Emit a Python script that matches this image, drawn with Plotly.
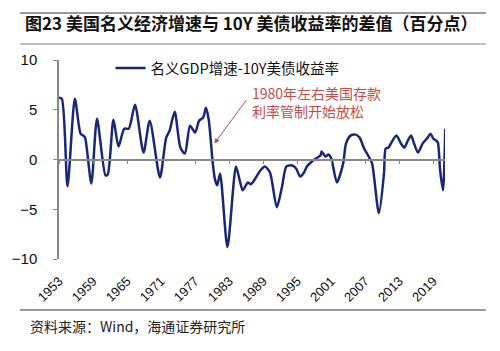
import plotly.graph_objects as go

# data (year, percentage points)
years = [1953.0, 1953.5, 1954.5, 1955.8, 1956.8, 1957.3, 1957.6, 1958.7, 1959.7, 1961.2,
         1961.6, 1962.6, 1963.5, 1964.5, 1965.3, 1966.4, 1967.9, 1969.0, 1970.8, 1971.9,
         1972.5, 1973.4, 1974.4, 1975.2, 1976.1, 1977.0, 1977.7, 1978.4, 1978.9, 1979.4,
         1980.1, 1980.5, 1980.9, 1981.4, 1982.7, 1984.2, 1984.9, 1985.4, 1986.3, 1986.8,
         1987.3, 1988.5, 1989.3, 1990.2, 1991.4, 1992.3, 1993.1, 1994.1, 1994.8, 1995.5,
         1996.2, 1996.7, 1997.4, 1998.3, 1999.1, 1999.3, 2000.0, 2000.5, 2001.0, 2002.0,
         2003.1, 2003.6, 2004.4, 2005.3, 2006.0, 2006.8, 2007.7, 2008.2, 2009.4, 2010.3,
         2010.6, 2011.1, 2011.6, 2012.5, 2013.3, 2013.9, 2014.5, 2015.1, 2015.6, 2016.3,
         2017.1, 2018.0, 2018.5, 2019.0, 2019.5, 2019.8, 2020.2, 2020.7, 2021.1]
spread = [6.2, 6.1, -2.7, 6.1, 2.6, 2.4, 2.2, -2.4, 4.1, -1.6,
          -1.5, 4.0, 1.3, 3.1, 3.1, 5.5, 0.7, 3.9, -1.8, 2.2,
          2.9, 4.8, 1.2, 0.6, 3.4, 2.7, 3.9, 4.2, 5.2, 4.0,
          -0.3, -2.0, -2.6, -1.4, -8.8, -0.7, -2.2, -3.1, -2.3, -2.5,
          -2.2, -1.1, -0.7, -1.3, -4.8, -2.8, -0.7, -0.6, -0.9, -1.7,
          -1.3, -0.7, -0.3, 0.1, 0.4, 0.8, 0.3, 0.5, 0.1, -2.3,
          -0.4, 1.6, 2.4, 2.5, 2.2, 1.1, 0.2, -0.4, -5.4, -1.4,
          1.1, 1.2, 1.7, 2.4, 1.6, 1.2, 1.9, 2.4, 1.6, 0.7,
          1.6, 2.2, 2.6, 2.1, 1.9, 1.7, -1.1, -3.1, 3.1]

tick_years = [1953, 1959, 1965, 1971, 1977, 1983, 1989, 1995, 2001, 2007, 2013, 2019]
tick_text = [str(y) for y in tick_years]
y_ticks = [10, 5, 0, -5, -10]

series_name = "名义GDP增速-10Y美债收益率"
title = "<b>图23 美国名义经济增速与 10Y 美债收益率的差值（百分点）</b>"
note = "1980年左右美国存款<br>利率管制开始放松"
source = "资料来源：Wind，海通证券研究所"

W, H = 500, 351
L, R, T, B = 48, 55, 60, 92
pw, ph = W - L - R, H - T - B

def px(x):
    return (x - L) / pw

def py(y):
    return (H - B - y) / ph

xr = [1953.0, 1953.0 + (445 - 48) * 6 / 35]

fig = go.Figure()
fig.add_trace(go.Scatter(x=years, y=spread, mode="lines", name=series_name,
                         line=dict(color="#1a2778", width=2.5, shape="spline", smoothing=0.7)))
fig.add_trace(go.Scatter(x=[years[0]], y=[0], xaxis="x2", mode="markers",
                         marker=dict(opacity=0), showlegend=False, hoverinfo="skip"))

axis_gray = "#888888"
fig.update_layout(
    width=W, height=H,
    margin=dict(l=L, r=R, t=T, b=B),
    paper_bgcolor="white", plot_bgcolor="white",
    font=dict(family="Liberation Sans, Noto Sans CJK SC", color="#111111"),
    showlegend=True,
    legend=dict(x=px(101), y=py(68), xanchor="left", yanchor="middle",
                bgcolor="rgba(0,0,0,0)", font=dict(size=14.5, family="Noto Sans CJK SC, Liberation Sans"),
                itemwidth=30),
    xaxis=dict(range=xr, tickvals=tick_years, ticktext=tick_text, tickangle=-45,
               showline=False, showgrid=False, zeroline=False, ticks="",
               ticklabelstandoff=11,
               tickfont=dict(size=13, family="Liberation Sans")),
    xaxis2=dict(range=xr, overlaying="x", anchor="free", position=0.5, side="bottom",
                showline=True, linecolor=axis_gray, linewidth=1.5,
                tickvals=tick_years, ticks="outside", ticklen=4, tickcolor=axis_gray,
                showticklabels=False, showgrid=False, zeroline=False),
    yaxis=dict(range=[-10, 10], tickvals=y_ticks, showline=True, linecolor=axis_gray,
               linewidth=1.5, ticks="outside", ticklen=4, tickcolor=axis_gray,
               ticklabelstandoff=13,
               showgrid=False, zeroline=False, tickfont=dict(size=15, family="Liberation Sans")),
)

# title, annotation and source
fig.add_annotation(xref="paper", yref="paper", x=px(11), y=py(22), xanchor="left", yanchor="middle",
                   text=title, showarrow=False,
                   font=dict(size=17, family="Noto Sans CJK SC", color="#111111"))
fig.add_annotation(xref="paper", yref="paper", x=px(244), y=py(102), xanchor="left", yanchor="middle",
                   text=note, showarrow=False, align="left",
                   font=dict(size=14, family="Noto Sans CJK SC", color="#c0504d"))
fig.add_annotation(x=1980.4, y=1.6, text="", showarrow=True, arrowhead=2, arrowsize=1,
                   arrowwidth=1, arrowcolor="#b05050", ax=33, ay=-45)
fig.add_annotation(xref="paper", yref="paper", x=px(16), y=py(326), xanchor="left", yanchor="middle",
                   text=source, showarrow=False,
                   font=dict(size=14, family="Noto Sans CJK SC", color="#222222"))

# frame lines
for yy, col in [(13, "#777777"), (44, "#aaaaaa"), (310, "#777777")]:
    fig.add_shape(type="line", xref="paper", yref="paper", x0=px(8), x1=px(487),
                  y0=py(yy), y1=py(yy), line=dict(color=col, width=1.5))

fig.write_html("out.html")
